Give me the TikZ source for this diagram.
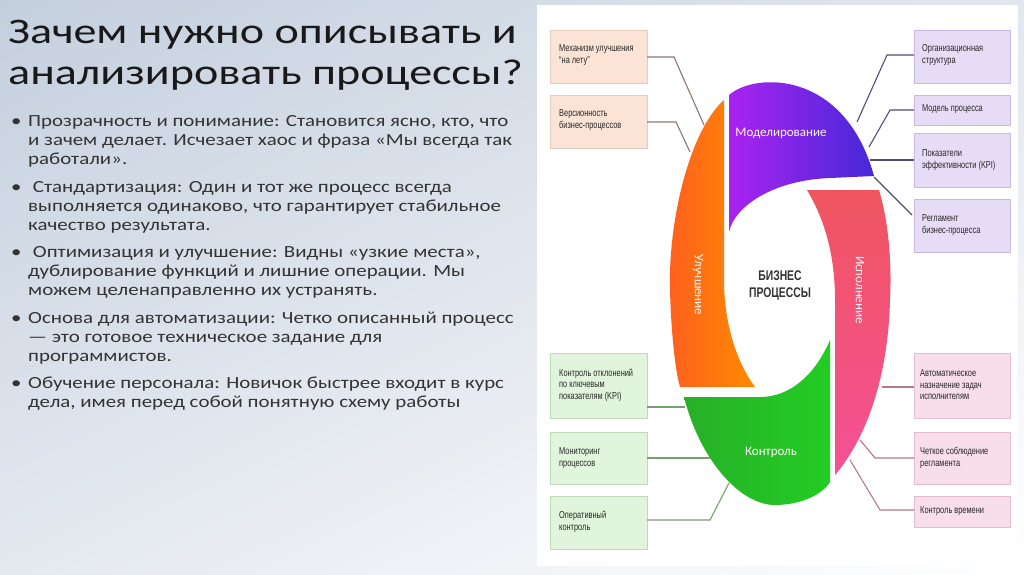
\documentclass[tikz,border=0pt]{standalone}
\usepackage{fontspec}
\setmainfont{Carlito}
\newfontfamily\cond{Liberation Sans}[FakeStretch=0.74]
\newfontfamily\titlef{Carlito}[FakeStretch=1.28]
\newfontfamily\bodyf{Carlito}[FakeStretch=1.23]
\usetikzlibrary{calc,shadings}
\definecolor{txt}{HTML}{333333}
\definecolor{bgA}{RGB}{196,207,222}
\definecolor{bgB}{RGB}{225,231,238}
\definecolor{bgC}{RGB}{228,233,240}
\definecolor{puA}{RGB}{170,35,240}
\definecolor{puB}{RGB}{70,40,215}
\definecolor{orA}{RGB}{255,95,30}
\definecolor{orB}{RGB}{255,140,0}
\definecolor{gnA}{RGB}{40,175,40}
\definecolor{gnB}{RGB}{35,205,35}
\definecolor{pnA}{RGB}{240,85,95}
\definecolor{pnB}{RGB}{245,80,150}
\definecolor{lnL}{RGB}{140,120,110}
\definecolor{lnR}{RGB}{85,75,120}
\definecolor{lnG}{RGB}{120,160,110}
\definecolor{lnP}{RGB}{180,120,145}
\definecolor{pe}{HTML}{FBE4D5}\definecolor{peb}{HTML}{E4CDBE}
\definecolor{la}{HTML}{E7DCF6}\definecolor{lab}{HTML}{C9BAE4}
\definecolor{gr}{HTML}{E1F5DC}\definecolor{grb}{HTML}{BEDDB6}
\definecolor{pk}{HTML}{F8DDEA}\definecolor{pkb}{HTML}{E6BDD1}
\tikzset{
 bl/.style={anchor=base west,font=\bodyf\fontsize{17}{18}\selectfont,text=txt,inner sep=0pt},
 btext/.style={anchor=west,font=\cond\fontsize{10}{11.5}\selectfont,text=black!85,align=left,inner sep=0pt},
 ln/.style={line width=1.1pt,draw=#1},
 seglab/.style={text=white!90!pink,font=\fontsize{13}{14}\selectfont},
 boxfill/.style 2 args={draw=#2,fill=#1,line width=0.9pt},
 ttl/.style={anchor=base west,inner sep=0pt,font=\titlef\fontsize{36}{40}\selectfont,text=black!90}
}
\begin{document}
\begin{tikzpicture}[x=1pt,y=-1pt]
\useasboundingbox (0,0) rectangle (1024,574);
\shade[upper left=bgA,upper right=bgB,lower left=bgC,lower right=white] (0,0) rectangle (1024,574);
\fill[white] (537,5) rectangle (1018,566);
% title
\node[ttl] (t1) at (8,43) {Зачем нужно описывать и};
\node[ttl] (t2) at (8,84) {анализировать процессы?};
% bullets
\foreach \y in {126,192,257,323,388}{\node[bl] at (11,\y) {•};}
\node[bl] (a1) at (28,126) {Прозрачность и понимание: Становится ясно, кто, что};
\node[bl] (a2) at (28,145) {и зачем делает. Исчезает хаос и фраза «Мы всегда так};
\node[bl] (a3) at (28,164) {работали».};
\node[bl] (b1) at (28,192) {\ Стандартизация: Один и тот же процесс всегда};
\node[bl] (b2) at (28,211) {выполняется одинаково, что гарантирует стабильное};
\node[bl] (b3) at (28,230) {качество результата.};
\node[bl] (c1) at (28,257) {\ Оптимизация и улучшение: Видны «узкие места»,};
\node[bl] (c2) at (28,276) {дублирование функций и лишние операции. Мы};
\node[bl] (c3) at (28,295) {можем целенаправленно их устранять.};
\node[bl] (d1) at (28,323) {Основа для автоматизации: Четко описанный процесс};
\node[bl] (d2) at (28,342) {— это готовое техническое задание для};
\node[bl] (d3) at (28,361) {программистов.};
\node[bl] (e1) at (28,388) {Обучение персонала: Новичок быстрее входит в курс};
\node[bl] (e2) at (28,407) {дела, имея перед собой понятную схему работы};
% ring segments
\shade[left color=puA,right color=puB]
 (729,95) .. controls (755,72) and (845,70) .. (874,176) -- (830,178) .. controls (775,180) and (735,205) .. (729,232) -- cycle;
\shade[left color=orA,right color=orB]
 (724,100) .. controls (690,130) and (668,220) .. (670,290) .. controls (671,330) and (675,370) .. (680,387) -- (755,387) .. controls (735,360) and (724,320) .. (724,280) -- cycle;
\shade[left color=gnA,right color=gnB]
 (684,397) .. controls (700,460) and (740,505) .. (775,505) .. controls (800,505) and (822,495) .. (830,482) -- (830,340) .. controls (815,375) and (790,397) .. (760,397) -- cycle;
\shade[top color=pnA,bottom color=pnB]
 (807,190) -- (879,190) .. controls (888,220) and (892,260) .. (890,300) .. controls (888,380) and (865,440) .. (835,475) -- (835,300) .. controls (835,250) and (822,215) .. (807,190) -- cycle;
\node[seglab] (m) at (781,133) {Моделирование};
\node[seglab,rotate=-90] (u) at (698,285) {Улучшение};
\node[seglab,rotate=-90] (i) at (860,290) {Исполнение};
\node[seglab] (k) at (771,452) {Контроль};
\node[font=\cond\bfseries\fontsize{14}{17}\selectfont,text=black!80,align=center] (bp) at (780,285) {БИЗНЕС\\ПРОЦЕССЫ};
% boxes
\draw[boxfill={pe}{peb}] (550,30) rectangle (647,83);
\draw[boxfill={pe}{peb}] (550,95) rectangle (647,148);
\draw[boxfill={gr}{grb}] (550,353) rectangle (647,418);
\draw[boxfill={gr}{grb}] (550,432) rectangle (647,484);
\draw[boxfill={gr}{grb}] (550,496) rectangle (647,549);
\draw[boxfill={la}{lab}] (914,30) rectangle (1010,83);
\draw[boxfill={la}{lab}] (914,95) rectangle (1010,125);
\draw[boxfill={la}{lab}] (914,133) rectangle (1010,187);
\draw[boxfill={la}{lab}] (914,199) rectangle (1010,252);
\draw[boxfill={pk}{pkb}] (914,353) rectangle (1010,418);
\draw[boxfill={pk}{pkb}] (914,432) rectangle (1010,484);
\draw[boxfill={pk}{pkb}] (914,496) rectangle (1010,527);
\node[btext] (L1) at (559,55) {Механизм улучшения\\“на лету”};
\node[btext] (L2) at (559,120) {Версионность\\бизнес-процессов};
\node[btext] (L3) at (559,385) {Контроль отклонений\\по ключевым\\показателям (KPI)};
\node[btext] (L4) at (559,458) {Мониторинг\\процессов};
\node[btext] (L5) at (559,522) {Оперативный\\контроль};
\node[btext] (R1) at (922,55) {Организационная\\структура};
\node[btext] (R2) at (922,109) {Модель процесса};
\node[btext] (R3) at (922,160) {Показатели\\эффективности (KPI)};
\node[btext] (R4) at (922,225) {Регламент\\бизнес-процесса};
\node[btext] (P1) at (920,385) {Автоматическое\\назначение задач\\исполнителям};
\node[btext] (P2) at (920,458) {Четкое соблюдение\\регламента};
\node[btext] (P3) at (920,511) {Контроль времени};
% connectors
\draw[ln=lnL] (647,57) -- (674,57) -- (704,125);
\draw[ln=lnL] (647,122) -- (676,122) -- (690,152);
\draw[ln=lnR] (914,55) -- (887,55) -- (857,122);
\draw[ln=lnR] (914,110) -- (890,110) -- (869,147);
\draw[ln=lnR] (914,160) -- (870,160);
\draw[ln=lnR] (874,177) -- (912,215);
\draw[ln=lnG] (647,407) -- (685,407);
\draw[ln=lnG] (647,458) -- (710,458);
\draw[ln=lnG] (647,520) -- (710,520) -- (729,483);
\draw[ln=lnP] (914,387) -- (882,387);
\draw[ln=lnP] (914,458) -- (875,458) -- (860,440);
\draw[ln=lnP] (914,510) -- (880,510) -- (850,460);
\end{tikzpicture}
\end{document}
